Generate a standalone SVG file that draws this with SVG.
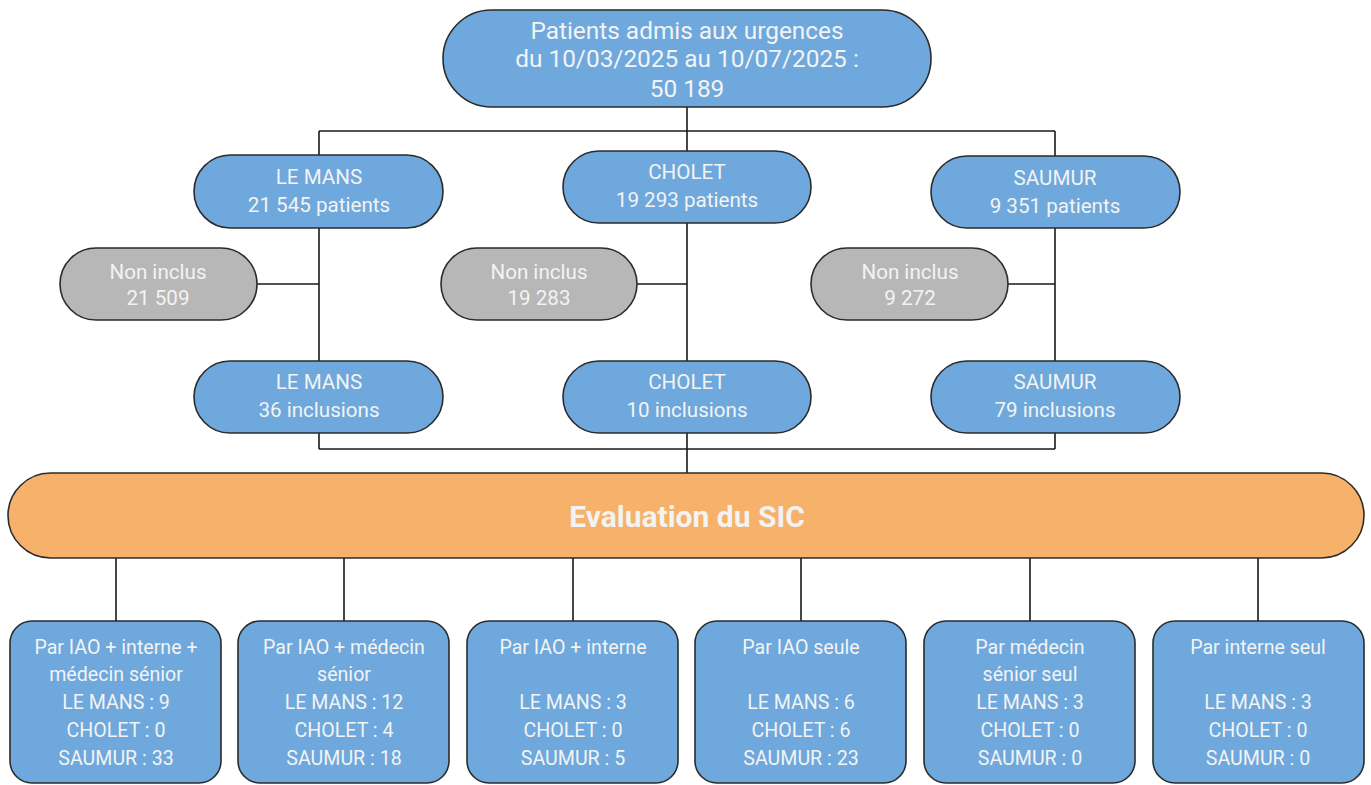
<svg xmlns="http://www.w3.org/2000/svg" width="1371" height="785" viewBox="0 0 1371 785">
<style>
.n{stroke:#2b2b2b;stroke-width:1.6}
.b{fill:#6fa8dc}
.g{fill:#b7b7b7}
.o{fill:#f6b26b}
text{font-family:Roboto,"Liberation Sans",sans-serif;fill:#f3f3f3;text-anchor:middle}
.t1{font-size:24.4px}
.t2{font-size:20.6px}
.t3{font-size:19.6px}
.tb{font-size:30px;font-weight:bold}
.c{stroke:#1a1a1a;stroke-width:1.6;fill:none}
</style>
<rect width="1371" height="785" fill="#ffffff"/>
<g id="connectors">
<path class="c" d="M687 107V473M319 131H1055M319 131V155M1055 131V156M319 228V361M1055 228V361M257 284H319M637 284H687M1008 284H1055M319 433V449M1055 433V449M319 449H1055M116 558V621M344 558V621M573 558V621M801 558V621M1030 558V621M1258 558V621"/>
</g>
<g id="top"><rect class="n b" x="443" y="10" width="488" height="97" rx="48.5"/>
<text class="t1" x="687" y="39">Patients admis aux urgences</text>
<text class="t1" x="687" y="67">du 10/03/2025 au 10/07/2025 :</text>
<text class="t1" x="687" y="97">50 189</text></g>
<g id="lemans"><rect class="n b" x="194" y="155" width="249" height="73" rx="36.5"/>
<text class="t2" x="319" y="184">LE MANS</text><text class="t2" x="319" y="212">21 545 patients</text></g>
<g id="cholet"><rect class="n b" x="563" y="151" width="248" height="72" rx="36"/>
<text class="t2" x="687" y="179">CHOLET</text><text class="t2" x="687" y="207">19 293 patients</text></g>
<g id="saumur"><rect class="n b" x="931" y="156" width="249" height="72" rx="36"/>
<text class="t2" x="1055" y="185">SAUMUR</text><text class="t2" x="1055" y="213">9 351 patients</text></g>
<g id="ni-lemans"><rect class="n g" x="60" y="248" width="197" height="72" rx="36"/>
<text class="t2" x="158" y="279">Non inclus</text><text class="t2" x="158" y="305">21 509</text></g>
<g id="ni-cholet"><rect class="n g" x="441" y="248" width="196" height="72" rx="36"/>
<text class="t2" x="539" y="279">Non inclus</text><text class="t2" x="539" y="305">19 283</text></g>
<g id="ni-saumur"><rect class="n g" x="811" y="248" width="197" height="72" rx="36"/>
<text class="t2" x="910" y="279">Non inclus</text><text class="t2" x="910" y="305">9 272</text></g>
<g id="inc-lemans"><rect class="n b" x="194" y="361" width="249" height="72" rx="36"/>
<text class="t2" x="319" y="389">LE MANS</text><text class="t2" x="319" y="417">36 inclusions</text></g>
<g id="inc-cholet"><rect class="n b" x="563" y="361" width="248" height="72" rx="36"/>
<text class="t2" x="687" y="389">CHOLET</text><text class="t2" x="687" y="417">10 inclusions</text></g>
<g id="inc-saumur"><rect class="n b" x="931" y="361" width="249" height="72" rx="36"/>
<text class="t2" x="1055" y="389">SAUMUR</text><text class="t2" x="1055" y="417">79 inclusions</text></g>
<g id="eval"><rect class="n o" x="8" y="473" width="1356" height="85" rx="42.5"/>
<text class="tb" x="687" y="527">Evaluation du SIC</text></g>
<g id="b1"><rect class="n b" x="10" y="621" width="211" height="162" rx="22"/>
<text class="t3" x="116" y="654">Par IAO + interne +</text><text class="t3" x="116" y="681">médecin sénior</text><text class="t3" x="116" y="709">LE MANS : 9</text><text class="t3" x="116" y="737">CHOLET : 0</text><text class="t3" x="116" y="765">SAUMUR : 33</text></g>
<g id="b2"><rect class="n b" x="238" y="621" width="211" height="162" rx="22"/>
<text class="t3" x="344" y="654">Par IAO + médecin</text><text class="t3" x="344" y="681">sénior</text><text class="t3" x="344" y="709">LE MANS : 12</text><text class="t3" x="344" y="737">CHOLET : 4</text><text class="t3" x="344" y="765">SAUMUR : 18</text></g>
<g id="b3"><rect class="n b" x="467" y="621" width="211" height="162" rx="22"/>
<text class="t3" x="573" y="654">Par IAO + interne</text><text class="t3" x="573" y="709">LE MANS : 3</text><text class="t3" x="573" y="737">CHOLET : 0</text><text class="t3" x="573" y="765">SAUMUR : 5</text></g>
<g id="b4"><rect class="n b" x="695" y="621" width="211" height="162" rx="22"/>
<text class="t3" x="801" y="654">Par IAO seule</text><text class="t3" x="801" y="709">LE MANS : 6</text><text class="t3" x="801" y="737">CHOLET : 6</text><text class="t3" x="801" y="765">SAUMUR : 23</text></g>
<g id="b5"><rect class="n b" x="924" y="621" width="211" height="162" rx="22"/>
<text class="t3" x="1030" y="654">Par médecin</text><text class="t3" x="1030" y="681">sénior seul</text><text class="t3" x="1030" y="709">LE MANS : 3</text><text class="t3" x="1030" y="737">CHOLET : 0</text><text class="t3" x="1030" y="765">SAUMUR : 0</text></g>
<g id="b6"><rect class="n b" x="1153" y="621" width="211" height="162" rx="22"/>
<text class="t3" x="1258" y="654">Par interne seul</text><text class="t3" x="1258" y="709">LE MANS : 3</text><text class="t3" x="1258" y="737">CHOLET : 0</text><text class="t3" x="1258" y="765">SAUMUR : 0</text></g>
</svg>
